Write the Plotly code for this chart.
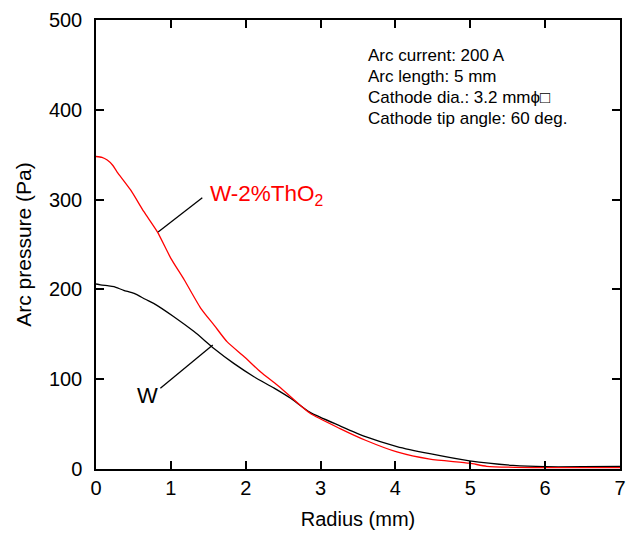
import plotly.graph_objects as go

# Data
radius_w = [0.0, 0.06, 0.17, 0.24, 0.37, 0.51, 0.66, 0.77, 1.04, 1.31, 1.58, 1.84, 2.11, 2.38, 2.6,
            2.86, 3.26, 3.6, 4.02, 4.46, 4.99, 5.57, 6.0, 6.5, 7.0]
pressure_w = [206, 205, 204, 203, 199, 195.6, 189, 184.5, 169.6, 153, 134, 117.6, 102.8, 90, 78.7,
              63, 48, 36, 25, 17, 9, 4, 2.5, 2.5, 3]

radius_th = [0.0, 0.08, 0.15, 0.22, 0.28, 0.46, 0.64, 0.82, 1.0, 1.18, 1.4, 1.58, 1.75, 1.98, 2.2,
             2.42, 2.6, 2.86, 3.26, 3.6, 4.02, 4.46, 4.99, 5.22, 6.0, 7.0]
pressure_th = [348, 347, 344, 338.5, 331, 311, 286.5, 264, 234.6, 210.5, 179, 160, 141.8, 125, 108,
               93.5, 80.5, 62, 45, 32, 19, 11, 6.5, 3, 1.5, 1.5]

x_ticks = [0, 1, 2, 3, 4, 5, 6, 7]
y_ticks = [0, 100, 200, 300, 400, 500]

info_lines = ["Arc current: 200 A", "Arc length: 5 mm", "Cathode dia.: 3.2 mm\u03d5\u25a1", "Cathode tip angle: 60 deg."]

FONT = "Liberation Sans, Arial, sans-serif"

fig = go.Figure()
fig.add_trace(go.Scatter(x=radius_w, y=pressure_w, mode="lines", line_shape="spline",
                         line=dict(color="black", width=1.3, smoothing=0.6), showlegend=False))
fig.add_trace(go.Scatter(x=radius_th, y=pressure_th, mode="lines", line_shape="spline",
                         line=dict(color="#ff0000", width=1.3, smoothing=0.6), showlegend=False))

axis_common = dict(showline=True, linecolor="black", linewidth=1.5, mirror="ticks",
                   ticks="inside", ticklen=8, tickwidth=1.5, tickcolor="black",
                   showgrid=False, zeroline=False, automargin=False,
                   tickfont=dict(family=FONT, size=20, color="black"))

fig.update_xaxes(range=[0, 7], tickvals=x_ticks, **axis_common,
                 title=dict(text="Radius (mm)", font=dict(family=FONT, size=20, color="black"), standoff=14))
fig.update_yaxes(range=[0, 500], tickvals=y_ticks, ticklabelstandoff=8, **axis_common,
                 title=dict(text="Arc pressure (Pa)", font=dict(family=FONT, size=21, color="black"), standoff=12))

# Label for W-2%ThO2 with leader line
fig.add_shape(type="line", xref="x", yref="y", x0=0.83, y0=264, x1=1.42, y1=302,
              line=dict(color="black", width=1.3))
fig.add_annotation(x=1.5, y=305, xref="x", yref="y", xanchor="left", yanchor="middle",
                   text="W-2%ThO<sub>2</sub>", showarrow=False,
                   font=dict(family=FONT, size=22.5, color="#ff0000"))

# Label for W with leader line
fig.add_shape(type="line", xref="x", yref="y", x0=0.86, y0=90, x1=1.56, y1=138,
              line=dict(color="black", width=1.3))
fig.add_annotation(x=0.69, y=82, xref="x", yref="y", xanchor="center", yanchor="middle",
                   text="W", showarrow=False,
                   font=dict(family=FONT, size=22, color="black"))

# Conditions text block
for i, line in enumerate(info_lines):
    fig.add_annotation(x=3.61, y=461 - i * 23.6, xref="x", yref="y", xanchor="left", yanchor="middle",
                       text=line, showarrow=False,
                       font=dict(family=FONT, size=17, color="black"))

fig.update_layout(width=629, height=534, margin=dict(l=96, r=9, t=20, b=65),
                  plot_bgcolor="white", paper_bgcolor="white")

fig.write_html("out.html", config={"displayModeBar": False},
               post_script="document.body.style.margin='0';document.body.style.overflow='hidden';")
